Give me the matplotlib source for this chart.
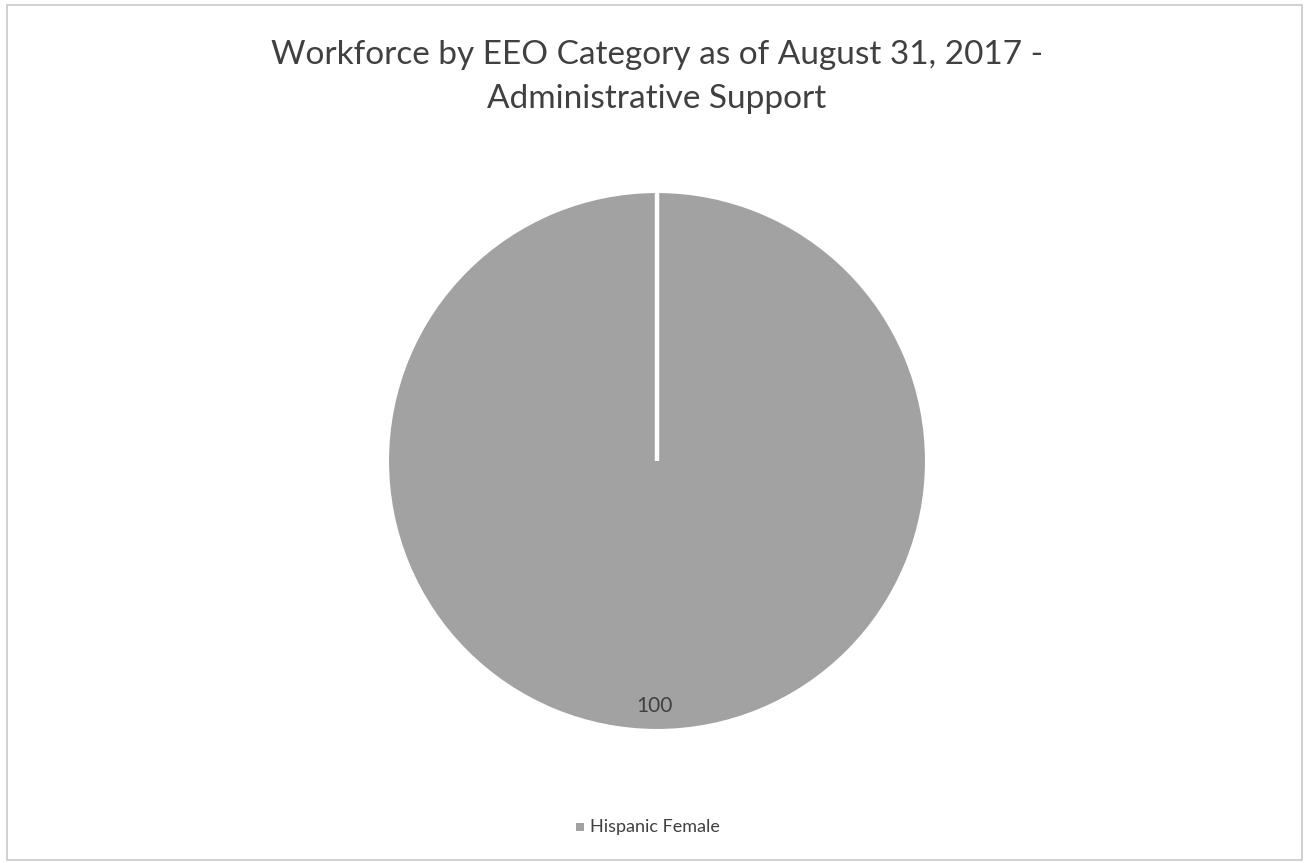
import numpy as np
import matplotlib.pyplot as plt
from matplotlib.patches import Rectangle

categories = ["Hispanic Female"]
values = [100]
labels = ["100"]
title = "Workforce by EEO Category as of August 31, 2017 -\nAdministrative Support"

W, H = 1308, 863
fig = plt.figure(figsize=(W / 100, H / 100), dpi=100)
fig.patch.set_facecolor("white")
plt.rcParams["font.family"] = ["Lato", "DejaVu Sans"]

# chart frame
fig.add_artist(Rectangle((7 / W, 3 / H), 1295 / W, 855 / H, transform=fig.transFigure,
                         fill=False, edgecolor="#c8c8c8", linewidth=1.2))

r = 269
cx, cy = 657, 461
ax = fig.add_axes([(cx - r) / W, (H - cy - r) / H, 2 * r / W, 2 * r / H])
wedges, _ = ax.pie(values, startangle=90, counterclock=False, colors=["#a2a2a2"],
                   wedgeprops=dict(edgecolor="white", linewidth=1.5), radius=1.0)
ax.set_xlim(-1, 1)
ax.set_ylim(-1, 1)
ax.set_aspect("equal")
ax.axis("off")

# slice boundary at the start angle (a full-circle wedge has no radial edge)
for w in wedges:
    a = np.deg2rad(w.theta1)
    ax.plot([0, np.cos(a)], [0, np.sin(a)], color="white", lw=3.2,
            solid_capstyle="butt", zorder=5)

# value label near the bottom of the slice
ax.text(-0.01, -0.91, labels[0], ha="center", va="center", fontsize=15, color="#404040")

fig.text(cx / W, 1 - 77 / H, title, ha="center", va="center", fontsize=24,
         color="#404040", linespacing=1.62)

# legend
fig.add_artist(Rectangle((576 / W, (H - 831) / H), 8 / W, 8 / H, transform=fig.transFigure,
                         facecolor="#a2a2a2", edgecolor="none"))
fig.text(590 / W, 1 - 827 / H, categories[0], ha="left", va="center", fontsize=13,
         color="#404040")

fig.savefig("out.png", dpi=100, facecolor="white")
